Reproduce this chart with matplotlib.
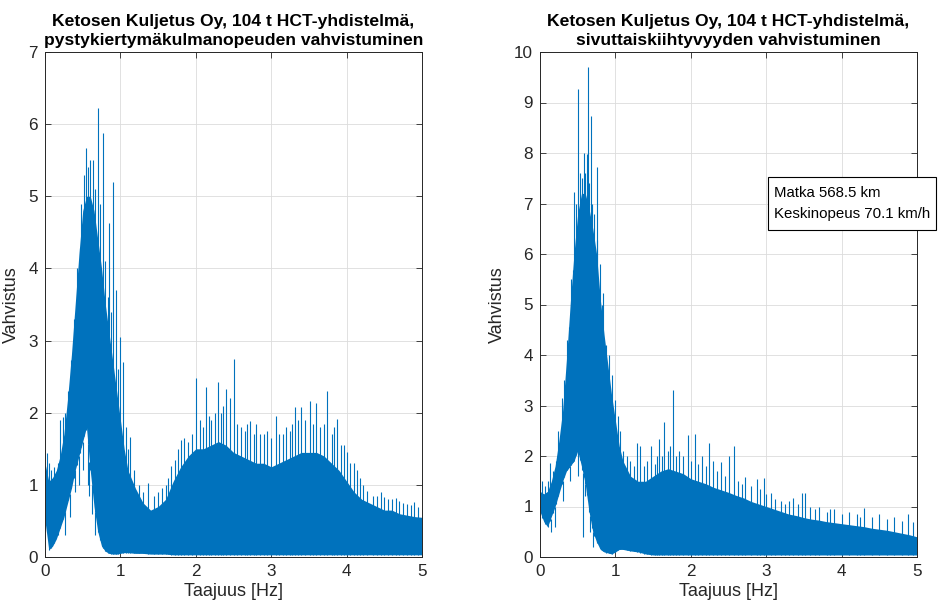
import numpy as np
import matplotlib.pyplot as plt
from matplotlib.patches import Rectangle

plt.rcParams["font.family"] = ["Liberation Sans", "DejaVu Sans"]

BLUE = "#0072BD"
AXC = "#262626"

# frequency grid used for the envelopes of the spectra (Hz)
freq = [0.0, 0.05, 0.1, 0.15, 0.2, 0.25, 0.3, 0.35, 0.4, 0.45, 0.5, 0.55, 0.6,
        0.65, 0.7, 0.75, 0.8, 0.85, 0.9, 0.95, 1.0, 1.05, 1.1, 1.2, 1.3, 1.4,
        1.5, 1.6, 1.7, 1.8, 1.9, 2.0, 2.1, 2.2, 2.3, 2.4, 2.5, 2.6, 2.7, 2.8,
        2.9, 3.0, 3.1, 3.2, 3.3, 3.4, 3.5, 3.6, 3.7, 3.8, 3.9, 4.0, 4.1, 4.2,
        4.3, 4.4, 4.5, 4.6, 4.7, 4.8, 4.9, 5.0]

# left: pystykiertymakulmanopeus (yaw rate) gain
yaw_upper = [1.3, 1.05, 1.1, 1.2, 1.4, 1.7, 2.2, 2.8, 3.5, 4.2, 4.8, 5.0, 5.0,
             4.8, 4.4, 4.0, 3.5, 3.1, 2.7, 2.3, 1.9, 1.5, 1.2, 0.95, 0.75, 0.65,
             0.7, 0.8, 1.05, 1.25, 1.4, 1.5, 1.5, 1.55, 1.6, 1.55, 1.45, 1.4,
             1.35, 1.3, 1.3, 1.25, 1.3, 1.35, 1.4, 1.45, 1.45, 1.45, 1.4, 1.3,
             1.2, 1.05, 0.9, 0.8, 0.75, 0.7, 0.65, 0.65, 0.6, 0.58, 0.56, 0.55]
yaw_lower = [0.5, 0.1, 0.15, 0.25, 0.4, 0.55, 0.75, 0.95, 1.2, 1.4, 1.6, 1.8,
             1.2, 0.7, 0.35, 0.15, 0.08, 0.05, 0.04, 0.04, 0.05, 0.06, 0.06,
             0.05, 0.05, 0.04, 0.04, 0.04, 0.03, 0.03, 0.03, 0.03, 0.03, 0.03,
             0.03, 0.03, 0.03, 0.03, 0.03, 0.03, 0.03, 0.03, 0.03, 0.03, 0.03,
             0.03, 0.03, 0.03, 0.03, 0.03, 0.03, 0.03, 0.03, 0.03, 0.03, 0.03,
             0.03, 0.03, 0.03, 0.03, 0.03, 0.03]
yaw_spike_f = [0.02, 0.05, 0.08, 0.12, 0.17, 0.2, 0.24, 0.27, 0.31, 0.35, 0.38,
               0.42, 0.46, 0.48, 0.52, 0.54, 0.57, 0.6, 0.63, 0.66, 0.7, 0.73,
               0.77, 0.8, 0.83, 0.85, 0.88, 0.9, 0.94, 0.97, 1.0, 1.04, 1.07,
               1.1, 1.13, 1.18, 1.25, 1.3, 1.37, 1.45, 1.5, 1.55, 1.6, 1.63,
               1.67, 1.72, 1.76, 1.81, 1.85, 1.9, 1.95, 2.0, 2.05, 2.1, 2.14,
               2.17, 2.2, 2.25, 2.29, 2.33, 2.36, 2.4, 2.45, 2.51, 2.55, 2.6,
               2.65, 2.68, 2.72, 2.77, 2.8, 2.85, 2.9, 2.95, 3.0, 3.07, 3.1,
               3.15, 3.2, 3.25, 3.28, 3.32, 3.36, 3.4, 3.45, 3.52, 3.55, 3.6,
               3.65, 3.7, 3.74, 3.8, 3.83, 3.87, 3.93, 3.97, 4.0, 4.05, 4.1,
               4.14, 4.18, 4.22, 4.27, 4.35, 4.4, 4.45, 4.5, 4.55, 4.6, 4.65,
               4.7, 4.75, 4.8, 4.85, 4.9, 4.95]
yaw_spike_h = [1.44, 1.3, 1.2, 1.25, 1.3, 1.9, 1.94, 2.0, 2.3, 2.73, 3.3,
               4.0, 4.28, 4.9, 5.3, 5.67, 5.4, 5.5, 5.5, 5.1, 6.23, 4.9,
               5.88, 4.1, 3.6, 4.63, 3.4, 5.2, 3.7, 2.6, 3.05, 2.7, 1.8,
               1.5, 1.66, 1.2, 1.0, 0.9, 1.02, 0.85, 0.9, 0.95, 1.0, 1.1,
               1.26, 1.35, 1.5, 1.62, 1.65, 1.6, 1.7, 2.48, 1.9, 1.8, 2.36,
               1.95, 1.9, 2.0, 2.43, 2.0, 2.1, 2.33, 2.2, 2.75, 1.85, 1.8,
               1.75, 1.85, 1.88, 1.7, 1.85, 1.7, 1.7, 1.75, 1.65, 1.95, 1.7,
               1.7, 1.8, 1.75, 1.85, 2.08, 1.9, 2.08, 1.9, 2.16, 1.85, 2.14,
               1.8, 1.85, 2.3, 1.7, 1.8, 1.91, 1.55, 1.55, 1.45, 1.3, 1.3,
               1.2, 1.1, 1.0, 0.92, 0.85, 0.85, 0.9, 0.83, 0.8, 0.8, 0.82,
               0.78, 0.75, 0.74, 0.72, 0.76, 0.7]
yaw_dip_f = [0.27, 0.33, 0.4, 0.45, 0.5, 0.57, 0.59, 0.62, 0.66]
yaw_dip_v = [0.3, 0.55, 0.9, 1.0, 1.2, 1.0, 0.85, 0.6, 0.3]

# right: sivuttaiskiihtyvyys (lateral acceleration) gain
lat_upper = [1.3, 1.25, 1.3, 1.5, 1.8, 2.3, 2.9, 3.9, 5.0, 6.0, 6.8, 7.2, 7.2,
             6.9, 6.5, 6.0, 5.1, 4.4, 3.8, 3.2, 2.7, 2.2, 1.9, 1.6, 1.5, 1.5,
             1.6, 1.7, 1.75, 1.7, 1.65, 1.55, 1.5, 1.45, 1.38, 1.33, 1.28,
             1.22, 1.17, 1.1, 1.05, 1.0, 0.95, 0.9, 0.85, 0.82, 0.78, 0.75,
             0.73, 0.7, 0.68, 0.66, 0.64, 0.62, 0.6, 0.57, 0.55, 0.53, 0.5,
             0.47, 0.44, 0.4]
lat_lower = [0.9, 0.7, 0.6, 0.8, 1.0, 1.25, 1.5, 1.7, 1.8, 1.9, 2.1, 1.8, 1.45,
             0.9, 0.5, 0.3, 0.15, 0.1, 0.08, 0.06, 0.1, 0.15, 0.15, 0.12, 0.1,
             0.06, 0.04, 0.04, 0.04, 0.04, 0.04, 0.04, 0.04, 0.04, 0.04, 0.04,
             0.04, 0.04, 0.04, 0.04, 0.04, 0.04, 0.04, 0.04, 0.04, 0.04, 0.04,
             0.04, 0.04, 0.04, 0.04, 0.04, 0.04, 0.04, 0.04, 0.04, 0.04, 0.04,
             0.04, 0.04, 0.04, 0.04]
lat_spike_f = [0.03, 0.07, 0.1, 0.13, 0.17, 0.21, 0.24, 0.29, 0.32, 0.36, 0.39,
               0.41, 0.44, 0.45, 0.48, 0.51, 0.53, 0.56, 0.58, 0.6, 0.62, 0.63,
               0.65, 0.67, 0.69, 0.72, 0.75, 0.76, 0.79, 0.82, 0.84, 0.88,
               0.92, 0.95, 1.0, 1.03, 1.06, 1.1, 1.15, 1.2, 1.25, 1.29, 1.33,
               1.38, 1.42, 1.47, 1.52, 1.55, 1.58, 1.62, 1.65, 1.7, 1.73, 1.77,
               1.8, 1.85, 1.9, 1.96, 2.0, 2.06, 2.1, 2.15, 2.2, 2.24, 2.3,
               2.35, 2.4, 2.45, 2.5, 2.57, 2.62, 2.68, 2.72, 2.8, 2.88, 2.92,
               2.97, 3.0, 3.06, 3.12, 3.2, 3.25, 3.3, 3.36, 3.42, 3.48, 3.51,
               3.58, 3.65, 3.7, 3.8, 3.85, 3.9, 4.0, 4.1, 4.2, 4.25, 4.3, 4.4,
               4.5, 4.6, 4.7, 4.8, 4.88, 4.95]
lat_spike_h = [1.5, 1.4, 1.5, 1.86, 1.7, 1.9, 2.5, 3.15, 3.5, 4.3, 4.55,
               5.5, 5.68, 7.23, 7.0, 9.27, 7.6, 7.5, 8.0, 7.6, 7.98, 9.7,
               7.4, 8.73, 7.0, 6.8, 6.28, 7.73, 5.8, 5.0, 5.22, 4.2,
               4.0, 3.6, 3.1, 2.8, 2.5, 2.1, 2.0, 1.9, 1.8, 2.25, 2.2,
               1.8, 1.9, 2.2, 1.85, 2.0, 2.33, 2.0, 2.68, 2.1, 2.2, 3.3,
               2.0, 2.1, 2.0, 2.42, 1.9, 2.44, 1.85, 2.0, 1.8, 2.25, 1.9,
               1.7, 1.89, 1.6, 2.0, 2.2, 1.5, 1.45, 1.58, 1.4, 1.54, 1.35,
               1.56, 1.25, 1.27, 1.15, 1.1, 1.05, 1.1, 1.17, 1.05, 1.27, 1.27,
               1.0, 0.95, 1.0, 0.9, 0.95, 0.95, 0.85, 0.9, 0.85, 0.8, 0.97, 0.8,
               0.85, 0.75, 0.8, 0.72, 0.85, 0.7]
lat_dip_f = [0.14, 0.2, 0.3, 0.4, 0.5, 0.57, 0.6, 0.66, 0.7]
lat_dip_v = [0.5, 0.6, 1.1, 1.5, 1.6, 0.4, 1.2, 0.5, 0.2]

title_l = "Ketosen Kuljetus Oy, 104 t HCT-yhdistelmä,\npystykiertymäkulmanopeuden vahvistuminen"
title_r = "Ketosen Kuljetus Oy, 104 t HCT-yhdistelmä,\nsivuttaiskiihtyvyyden vahvistuminen"
info_lines = ["Matka 568.5 km", "Keskinopeus 70.1 km/h"]

fig = plt.figure(figsize=(9.44, 6.14), dpi=100)
W, H = 944, 614


def px_axes(x0, x1, y0, y1):
    return fig.add_axes([x0 / W, 1 - y1 / H, (x1 - x0) / W, (y1 - y0) / H])


def draw(ax, upper, lower, sf, sh, df, dv, ymax, title):
    ax.fill_between(freq, lower, upper, color=BLUE, lw=0)
    ax.vlines(sf, np.interp(sf, freq, lower), sh, color=BLUE, lw=0.8)
    ax.vlines(df, dv, np.interp(df, freq, lower), color=BLUE, lw=0.8)
    ax.set_xlim(0, 5)
    ax.set_ylim(0, ymax)
    ax.set_xticks(range(6))
    ax.set_yticks(range(ymax + 1))
    ax.grid(True, color="#dcdcdc", lw=0.6)
    ax.set_axisbelow(True)
    for s in ax.spines.values():
        s.set_color(AXC)
        s.set_linewidth(0.7)
    ax.tick_params(direction="in", top=True, right=True, length=4, width=0.6,
                   color=AXC, labelcolor=AXC, labelsize=12.3, pad=5)
    ax.set_xlabel("Taajuus [Hz]", fontsize=13, color=AXC, labelpad=3)
    ax.set_ylabel("Vahvistus", fontsize=13, color=AXC, labelpad=6)
    ax.set_title(title, fontsize=12.6, fontweight="bold", pad=5, linespacing=1.35)


ax1 = px_axes(45, 422, 52, 557)
draw(ax1, yaw_upper, yaw_lower, yaw_spike_f, yaw_spike_h, yaw_dip_f, yaw_dip_v,
     7, title_l)

ax2 = px_axes(540, 917, 52, 557)
draw(ax2, lat_upper, lat_lower, lat_spike_f, lat_spike_h, lat_dip_f, lat_dip_v,
     10, title_r)

fig.add_artist(Rectangle((768 / W, 1 - 230 / H), (936 - 768) / W, 53 / H,
                         transform=fig.transFigure, facecolor="white",
                         edgecolor="black", lw=0.8))
for i, line in enumerate(info_lines):
    fig.text(774 / W, 1 - (193 + 21 * i) / H, line, fontsize=10.8,
             va="center", ha="left", color="black")

fig.savefig("out.png", dpi=100)
